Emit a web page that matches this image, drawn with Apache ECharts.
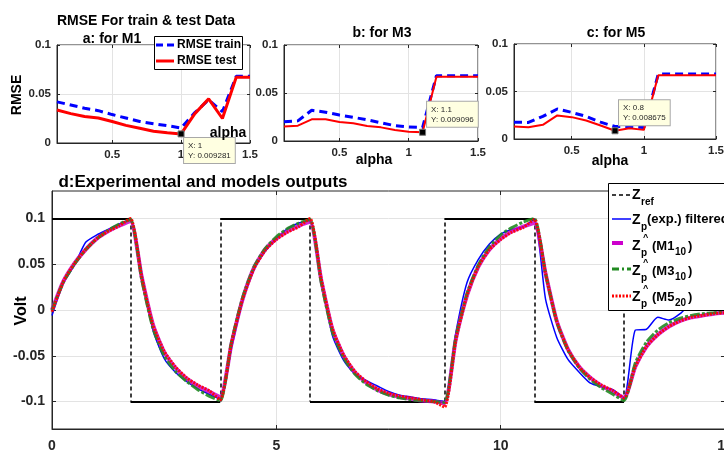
<!DOCTYPE html>
<html><head><meta charset="utf-8">
<script src="https://cdn.jsdelivr.net/npm/echarts@6/dist/echarts.min.js"></script>
<style>html,body{margin:0;padding:0;background:#fff}#c{width:724px;height:453px}</style>
</head><body><div id="c"></div>
<script>
// ---------- RMSE panels (a, b, c) ----------
const alpha = [0.1,0.2,0.3,0.4,0.5,0.6,0.7,0.8,0.9,1.0,1.1,1.2,1.3,1.4,1.5];
const trainM1 = [0.042,0.0388,0.0355,0.033,0.029,0.0255,0.022,0.0197,0.0177,0.0153,0.031,0.044,0.032,0.068,0.068];
const testM1  = [0.0337,0.030,0.027,0.0255,0.022,0.018,0.015,0.012,0.0105,0.009281,0.030,0.045,0.025,0.067,0.067];
const trainM3 = [0.020,0.021,0.032,0.030,0.027,0.0247,0.022,0.019,0.016,0.0146,0.014,0.068,0.068,0.068,0.068];
const testM3  = [0.015,0.016,0.0226,0.0226,0.0198,0.0184,0.0156,0.0142,0.0115,0.0097,0.009096,0.067,0.067,0.067,0.067];
const trainM5 = [0.0177,0.0174,0.0238,0.0316,0.028,0.0238,0.0177,0.0131,0.013,0.012,0.0685,0.0685,0.0685,0.0685,0.0685];
const testM5  = [0.0131,0.0124,0.0149,0.0248,0.023,0.0195,0.0142,0.008675,0.0113,0.0096,0.067,0.067,0.067,0.067,0.067];
const alphaTicks = [0.5, 1, 1.5];
const rmseTicks = [0, 0.05, 0.1];
const tipM1 = [1, 0.009281];
const tipM3 = [1.1, 0.009096];
const tipM5 = [0.8, 0.008675];

// ---------- Panel d ----------
const time = [0,0.25,0.5,0.75,1,1.25,1.5,1.75,
  2,2.25,2.5,2.75,3,3.25,3.5,3.75,
  4,4.25,4.5,4.75,5,5.25,5.5,5.75,
  6,6.25,6.5,6.75,7,7.25,7.5,7.75,8,8.25,8.5,8.75,
  9,9.25,9.5,9.75,10,10.25,10.5,10.75,
  11,11.25,11.5,11.75,12,12.25,12.5,12.75,
  13,13.25,13.5,13.75,14,14.25,14.5,14.75,15];
const refSwitch = [0,1.75,3.75,5.75,8.75,10.75,12.75,15];
const refLevel  = [0.1,-0.1,0.1,-0.1,0.1,-0.1,0];
const zpExp = [-0.006,0.029,0.049,0.074,0.082,0.088,0.094,0.099,
  0.040,-0.022,-0.053,-0.068,-0.078,-0.086,-0.092,-0.097,
  -0.042,0.010,0.044,0.064,0.078,0.089,0.095,0.098,
  0.034,-0.028,-0.055,-0.070,-0.077,-0.083,-0.089,-0.093,-0.095,-0.097,-0.098,-0.100,
  -0.025,0.030,0.055,0.072,0.083,0.088,0.091,0.099,
  0.012,-0.030,-0.054,-0.068,-0.080,-0.084,-0.087,-0.096,
  -0.022,-0.021,-0.008,-0.011,-0.004,0.008,0.014,0.010,0.005];
const zM1 = [0,0.031,0.051,0.066,0.078,0.086,0.092,0.097,
  0.036,-0.016,-0.046,-0.063,-0.075,-0.083,-0.089,-0.095,
  -0.037,0.012,0.046,0.066,0.078,0.086,0.092,0.096,
  0.033,-0.021,-0.050,-0.068,-0.079,-0.087,-0.092,-0.095,-0.097,-0.099,-0.100,-0.102,
  -0.032,0.016,0.047,0.066,0.078,0.086,0.091,0.095,
  0.040,-0.012,-0.043,-0.062,-0.074,-0.083,-0.089,-0.096,
  -0.062,-0.040,-0.027,-0.018,-0.012,-0.008,-0.006,-0.004,-0.003];
const zM3 = [0,0.030,0.050,0.066,0.078,0.087,0.094,0.099,
  0.033,-0.020,-0.050,-0.067,-0.078,-0.087,-0.094,-0.099,
  -0.035,0.014,0.047,0.067,0.080,0.089,0.095,0.099,
  0.030,-0.024,-0.052,-0.070,-0.081,-0.088,-0.093,-0.096,-0.098,-0.099,-0.100,-0.101,
  -0.030,0.018,0.049,0.069,0.082,0.090,0.096,0.100,
  0.040,-0.013,-0.044,-0.063,-0.076,-0.085,-0.092,-0.099,
  -0.058,-0.035,-0.022,-0.014,-0.009,-0.006,-0.004,-0.003,-0.002];
const zM5 = [-0.002,0.031,0.051,0.066,0.078,0.086,0.092,0.100,
  0.036,-0.016,-0.045,-0.062,-0.074,-0.082,-0.088,-0.098,
  -0.036,0.012,0.045,0.065,0.077,0.085,0.091,0.100,
  0.034,-0.020,-0.049,-0.067,-0.078,-0.086,-0.091,-0.094,-0.096,-0.098,-0.100,-0.106,
  -0.033,0.016,0.047,0.066,0.077,0.085,0.090,0.099,
  0.040,-0.012,-0.043,-0.062,-0.074,-0.082,-0.088,-0.096,
  -0.062,-0.040,-0.027,-0.018,-0.012,-0.008,-0.006,-0.004,-0.003];
const timeTicks = [0,5,10,15];
const voltTicks = [-0.1,-0.05,0,0.05,0.1];

const FONT = '"Liberation Sans", Arial, Helvetica, sans-serif';
const AX = '#262626';
const GRIDC = '#e3e3e3';

const chart = echarts.init(document.getElementById('c'));

function pairs(xs, ys){ return xs.map((x,i)=>[x, ys[i]]); }

function mainAxis(gi, min, max, ticks, size, margin){
  return {gridIndex:gi, type:'value', min:min, max:max,
    axisLine:{show:true,onZero:false,lineStyle:{color:AX,width:1}},
    axisTick:{show:true,inside:true,length:gi===3?4:3,customValues:ticks,lineStyle:{color:AX}},
    axisLabel:{customValues:ticks,margin:margin,color:AX,fontWeight:'bold',fontSize:size,fontFamily:FONT},
    splitLine:{show:true,lineStyle:{color:GRIDC,width:1}}};
}
function boxAxis(gi, pos, min, max, ticks){
  return {gridIndex:gi, type:'value', position:pos, min:min, max:max,
    axisLine:{show:false,onZero:false},
    axisTick:{show:true,inside:true,length:gi===3?4:3,customValues:ticks,lineStyle:{color:AX}},
    axisLabel:{show:false}, splitLine:{show:false}};
}
function tipPoint(tip, offs){
  return {data:[{coord:tip, symbol:'rect', symbolSize:6,
    itemStyle:{color:'#000', borderColor:'#777', borderWidth:1},
    label:{show:true, position:offs, align:'left', verticalAlign:'top',
      formatter:'X: '+tip[0]+'\nY: '+tip[1], fontSize:8, lineHeight:10, fontFamily:FONT,
      color:'#262626', backgroundColor:'#ffffe1', borderColor:'#a8a8a8', borderWidth:1,
      padding:[3,4,2,4]}}], animation:false};
}
function rmseSeries(gi, tr, te, redW, tip, offs){
  return [
    {type:'line', name:'RMSE train', xAxisIndex:gi, yAxisIndex:gi, data:pairs(alpha,tr),
      symbol:'none', lineStyle:{color:'#0000ff', width:3, type:[8,5]}, z:3},
    {type:'line', name:'RMSE test', xAxisIndex:gi, yAxisIndex:gi, data:pairs(alpha,te),
      symbol:'none', lineStyle:{color:'#ff0000', width:redW}, z:4,
      markPoint:tipPoint(tip, offs)}
  ];
}

const refH = [], refV = [];
for (let k=0;k<refLevel.length;k++){
  refH.push({coords:[[refSwitch[k],refLevel[k]],[refSwitch[k+1],refLevel[k]]]});
  if (k>0) refV.push({coords:[[refSwitch[k],refLevel[k-1]],[refSwitch[k],refLevel[k]]]});
}

const gridBox = {show:true, borderColor:AX, borderWidth:1, containLabel:false, outerBoundsMode:'none'};

function txt(x,y,t,size,opts){
  return Object.assign({type:'text', x:x, y:y, z:50,
    style:{text:t, font:'bold '+size+'px '+FONT, fill:(opts&&opts.fill)||'#000',
      align:(opts&&opts.align)||'center', verticalAlign:'middle'}}, (opts&&opts.rot)?{rotation:opts.rot}:{});
}
function ltxt(x,y,t,size){ const o = txt(x,y,t,size,{align:'left'}); o.z = 92; return o; }

// Legend for panel a
const legendA = [
  {type:'rect', shape:{x:154.5,y:36.5,width:88,height:33}, style:{fill:'#fff',stroke:'#000',lineWidth:1}, z:90},
  {type:'line', shape:{x1:156,y1:45,x2:174,y2:45}, style:{stroke:'#0000ff',lineWidth:3,lineDash:[7,4]}, z:91},
  {type:'line', shape:{x1:156,y1:61,x2:174,y2:61}, style:{stroke:'#ff0000',lineWidth:3}, z:91},
  ltxt(177, 45, 'RMSE train', 12),
  ltxt(177, 61, 'RMSE test', 12)
];

// Legend for panel d (graphic, with sub/superscripts)
const LX = 608, LT = 183;
const rows = [195, 220, 246, 271, 297];
const lineRows = [195, 219, 243, 269, 296];
const legendD = [
  {type:'rect', shape:{x:LX+0.5,y:LT+0.5,width:140,height:127}, style:{fill:'#fff',stroke:'#000',lineWidth:1}, z:90},
  {type:'line', shape:{x1:612,y1:lineRows[0],x2:631,y2:lineRows[0]}, style:{stroke:'#000',lineWidth:1.5,lineDash:[4,3]}, z:91},
  {type:'line', shape:{x1:612,y1:lineRows[1],x2:631,y2:lineRows[1]}, style:{stroke:'#0000ff',lineWidth:1.5}, z:91},
  {type:'line', shape:{x1:612,y1:lineRows[2],x2:623,y2:lineRows[2]}, style:{stroke:'#cc00cc',lineWidth:4}, z:91},
  {type:'line', shape:{x1:612,y1:lineRows[3],x2:631,y2:lineRows[3]}, style:{stroke:'#228b22',lineWidth:3,lineDash:[7,3,2,3]}, z:91},
  {type:'line', shape:{x1:612,y1:lineRows[4],x2:631,y2:lineRows[4]}, style:{stroke:'#ff0000',lineWidth:3,lineDash:[2,1.5]}, z:91}
];
legendD.push(ltxt(632, rows[0], 'Z', 14), ltxt(641, rows[0]+7, 'ref', 10));
legendD.push(ltxt(632, rows[1], 'Z', 14), ltxt(641, rows[1]+7, 'p', 10), ltxt(647, rows[1]-1, '(exp.) filtered', 13));
const mNames = [['(M1','10'],['(M3','10'],['(M5','20']];
for (let r=0;r<3;r++){
  const y = rows[2+r];
  legendD.push(ltxt(632, y, 'Z', 14), ltxt(643, y-8, '^', 9), ltxt(641, y+7, 'p', 10),
    ltxt(652, y, mNames[r][0], 13), ltxt(675, y+6, mNames[r][1], 10), ltxt(688, y, ')', 13));
}

const option = {
  animation:false,
  backgroundColor:'#fff',
  grid:[
    Object.assign({left:57, top:45, width:193, height:98}, gridBox),
    Object.assign({left:284, top:45, width:194, height:96}, gridBox),
    Object.assign({left:514, top:44, width:202, height:95}, gridBox),
    Object.assign({left:52, top:191, width:673, height:238}, gridBox)
  ],
  xAxis:[
    mainAxis(0, 0.1, 1.5, alphaTicks, 11.5, 6),
    mainAxis(1, 0.1, 1.5, alphaTicks, 11.5, 6),
    mainAxis(2, 0.1, 1.5, alphaTicks, 11.5, 6),
    mainAxis(3, 0, 15, timeTicks, 14, 10),
    boxAxis(0, 'top', 0.1, 1.5, alphaTicks),
    boxAxis(1, 'top', 0.1, 1.5, alphaTicks),
    boxAxis(2, 'top', 0.1, 1.5, alphaTicks),
    boxAxis(3, 'top', 0, 15, timeTicks)
  ],
  yAxis:[
    mainAxis(0, 0, 0.1, rmseTicks, 11.5, 6),
    mainAxis(1, 0, 0.1, rmseTicks, 11.5, 6),
    mainAxis(2, 0, 0.1, rmseTicks, 11.5, 6),
    mainAxis(3, -0.13, 0.13, voltTicks, 14, 7),
    boxAxis(0, 'right', 0, 0.1, rmseTicks),
    boxAxis(1, 'right', 0, 0.1, rmseTicks),
    boxAxis(2, 'right', 0, 0.1, rmseTicks),
    boxAxis(3, 'right', -0.13, 0.13, voltTicks)
  ],
  series:[].concat(
    rmseSeries(0, trainM1, testM1, 3, tipM1, [6.5, 7.5]),
    rmseSeries(1, trainM3, testM3, 2, tipM3, [8, -27]),
    rmseSeries(2, trainM5, testM5, 2, tipM5, [7.5, -27]),
    [
      {type:'lines', coordinateSystem:'cartesian2d', xAxisIndex:3, yAxisIndex:3, data:refH,
        lineStyle:{color:'#000', width:2, type:'solid', opacity:1}, z:2},
      {type:'lines', coordinateSystem:'cartesian2d', xAxisIndex:3, yAxisIndex:3, data:refV,
        lineStyle:{color:'#000', width:1.5, type:[4,3], opacity:1}, z:2},
      {type:'line', name:'Zp exp', xAxisIndex:3, yAxisIndex:3, data:pairs(time,zpExp), symbol:'none', smooth:0.2,
        lineStyle:{color:'#0000ff', width:1.5}, z:3},
      {type:'line', name:'M1', xAxisIndex:3, yAxisIndex:3, data:pairs(time,zM1), symbol:'none', smooth:0.2,
        lineStyle:{color:'#cc00cc', width:4, opacity:0.85}, z:4},
      {type:'line', name:'M3', xAxisIndex:3, yAxisIndex:3, data:pairs(time,zM3), symbol:'none', smooth:0.2,
        lineStyle:{color:'#228b22', width:3, type:[10,2,3,2], opacity:0.9}, z:5},
      {type:'line', name:'M5', xAxisIndex:3, yAxisIndex:3, data:pairs(time,zM5), symbol:'none', smooth:0.2,
        lineStyle:{color:'#ff0000', width:3, type:[2,1.2], opacity:0.9}, z:6}
    ]),
  graphic:[
    txt(146, 21, 'RMSE For train & test Data', 14),
    txt(112, 39, 'a: for M1', 14),
    txt(382, 33, 'b: for M3', 14),
    txt(616, 33, 'c: for M5', 14),
    txt(228, 133, 'alpha', 14),
    txt(374, 160, 'alpha', 14),
    txt(610, 161, 'alpha', 14),
    txt(17, 95, 'RMSE', 14, {rot:Math.PI/2}),
    txt(203, 182, 'd:Experimental and models outputs', 17),
    txt(22, 311, 'Volt', 16, {rot:Math.PI/2})
  ].concat(legendA, legendD)
};
chart.setOption(option);
</script>
</body></html>
